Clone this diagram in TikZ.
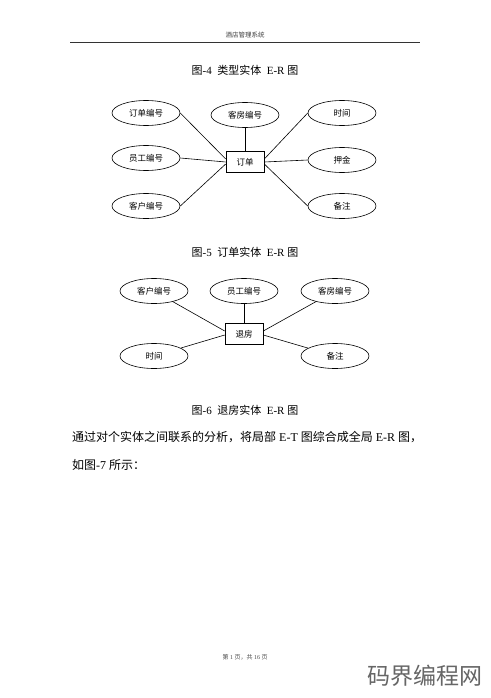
\documentclass[tikz,border=0pt]{standalone}
\usepackage{fontspec}
\setmainfont{Liberation Serif}
\newfontfamily\cjk{Noto Sans CJK SC}
\usetikzlibrary{shapes.geometric}
\begin{document}
\begin{tikzpicture}[x=1pt,y=-1pt,
  attr/.style={draw,ellipse,line width=0.6pt,minimum width=68pt,minimum height=25pt,inner sep=0pt,font=\cjk\fontsize{8.5}{10}\selectfont},
  ent/.style={draw,rectangle,line width=0.6pt,minimum width=38pt,minimum height=21pt,inner sep=0pt,font=\cjk\fontsize{8.5}{10}\selectfont},
  conn/.style={line width=0.6pt},
  figcap/.style={font=\fontsize{11}{13}\selectfont},
  body/.style={font=\fontsize{12}{14}\selectfont,anchor=west,inner sep=0pt}]
\useasboundingbox[fill=white] (0,0) rectangle (490,698);
% header
\node[font=\cjk\fontsize{6.5}{8}\selectfont,text=black!75] (hdr) at (245,35) {酒店管理系统};
\coordinate (hl) at (70,42);
\coordinate (hr) at (420,42);
\draw[line width=0.8pt,black!80] (hl) -- (hr);
% caption 4
\node[figcap] (c4) at (245,70) {{\cjk 图}-4\enspace{\cjk 类型实体}\enspace E-R {\cjk 图}};
% diagram 1
\node[ent] (d) at (245,162) {订单};
\node[attr] (a1) at (146,113) {订单编号};
\node[attr] (a2) at (245,115) {客房编号};
\node[attr] (a3) at (342,113) {时间};
\node[attr] (a4) at (146,158) {员工编号};
\node[attr] (a5) at (342,160) {押金};
\node[attr] (a6) at (146,206) {客户编号};
\node[attr] (a7) at (342,206) {备注};
\draw[conn] (a1.east) -- ([yshift=3pt]d.west);
\draw[conn] (a4.east) -- (d.west);
\draw[conn] (a6.east) -- ([yshift=-2pt]d.west);
\draw[conn] (a2) -- (d);
\draw[conn] (a3.west) -- ([yshift=3pt]d.east);
\draw[conn] (a5.west) -- (d.east);
\draw[conn] (a7.west) -- ([yshift=-2pt]d.east);
% caption 5
\node[figcap] (c5) at (245,252) {{\cjk 图}-5\enspace{\cjk 订单实体}\enspace E-R {\cjk 图}};
% diagram 2
\node[ent] (r) at (244,334) {退房};
\node[attr] (b1) at (154,291) {客户编号};
\node[attr] (b2) at (244,291) {员工编号};
\node[attr] (b3) at (335,291) {客房编号};
\node[attr] (b4) at (154,356) {时间};
\node[attr] (b5) at (335,356) {备注};
\draw[conn] (b1) -- ([yshift=3pt]r.west);
\draw[conn] (b2) -- (r);
\draw[conn] (b3) -- ([yshift=3pt]r.east);
\draw[conn] (b4) -- ([yshift=-1pt]r.west);
\draw[conn] (b5) -- ([yshift=-1pt]r.east);
% caption 6
\node[figcap] (c6) at (245,410) {{\cjk 图}-6\enspace{\cjk 退房实体}\enspace E-R {\cjk 图}};
% body text
\node[body] (p1) at (72,437) {{\cjk 通过对个实体之间联系的分析，将局部} E-T {\cjk 图综合成全局} E-R {\cjk 图，}};
\node[body] (p2) at (72,465) {{\cjk 如图}-7 {\cjk 所示：}};
% footer
\node[font=\fontsize{6}{7}\selectfont,text=black!70] (ftr) at (245,657) {{\cjk 第} 1 {\cjk 页，共} 16 {\cjk 页}};
% watermark
\node[font=\cjk\fontsize{23}{25}\selectfont,text=black!60] (wm) at (425,676) {码界编程网};
\end{tikzpicture}
\end{document}
